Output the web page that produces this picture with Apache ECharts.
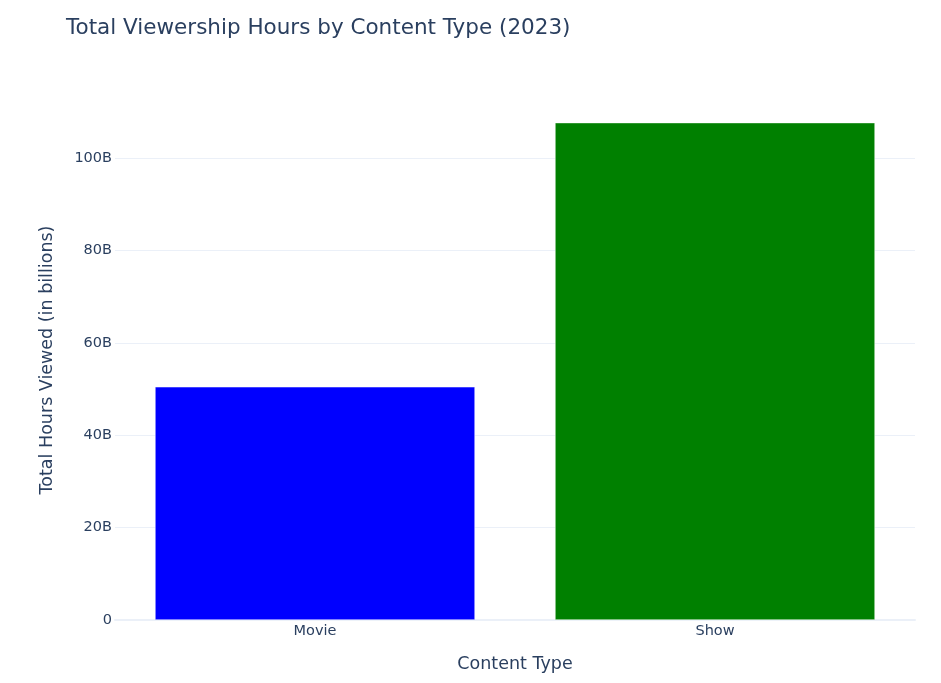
<!DOCTYPE html>
<html>
<head>
<meta charset="utf-8">
<script src="https://cdn.jsdelivr.net/npm/echarts@6/dist/echarts.min.js"></script>
<style>html,body{margin:0;padding:0;background:#fff}#c{width:941px;height:683px}</style>
</head>
<body>
<div id="c"></div>
<script>
const categories = ['Movie', 'Show'];
const hoursBillions = [50.5, 107.7];
const barColors = ['#0000ff', '#008000'];
const yTickStep = 20;
const yMax = 112.6;

const font = 'DejaVu Sans, Verdana, sans-serif';
const ink = '#2a3f5f';
const chart = echarts.init(document.getElementById('c'), null, {renderer: 'canvas'});
chart.setOption({
  backgroundColor: '#ffffff',
  animation: false,
  title: {
    text: 'Total Viewership Hours by Content Type (2023)',
    left: 66, top: 17, padding: 0,
    textStyle: {fontFamily: font, fontSize: 21.5, fontWeight: 'normal', color: ink}
  },
  grid: {left: 115, right: 26, top: 100, bottom: 63, containLabel: false},
  xAxis: {
    type: 'category',
    data: categories,
    name: 'Content Type',
    nameLocation: 'middle',
    nameGap: 35,
    nameTextStyle: {fontFamily: font, fontSize: 17.5, color: ink},
    axisLine: {show: true, onZero: true, lineStyle: {color: '#EBF0F8', width: 2}},
    axisTick: {show: false},
    axisLabel: {fontFamily: font, fontSize: 14.5, color: ink, margin: 4},
    splitLine: {show: false}
  },
  yAxis: {
    type: 'value',
    min: 0, max: yMax, interval: yTickStep,
    name: 'Total Hours Viewed (in billions)',
    nameLocation: 'middle',
    nameGap: 59,
    nameRotate: 90,
    nameTextStyle: {fontFamily: font, fontSize: 17.5, color: ink},
    axisLine: {show: false},
    axisTick: {show: false},
    axisLabel: {
      fontFamily: font, fontSize: 14.5, color: ink, margin: 3,
      showMaxLabel: false,
      formatter: v => (Math.abs(v % yTickStep) > 1e-6 ? '' : (v === 0 ? '0' : v + 'B'))
    },
    splitLine: {show: true, showMaxLine: false, showMinLine: false, lineStyle: {color: '#EBF0F8', width: 1}}
  },
  series: [{
    type: 'bar',
    data: hoursBillions.map((v, i) => ({value: v, itemStyle: {color: barColors[i]}})),
    barCategoryGap: '20%',
    itemStyle: {borderColor: '#ffffff', borderWidth: 0.5},
    emphasis: {disabled: true}
  }]
});
</script>
</body>
</html>
